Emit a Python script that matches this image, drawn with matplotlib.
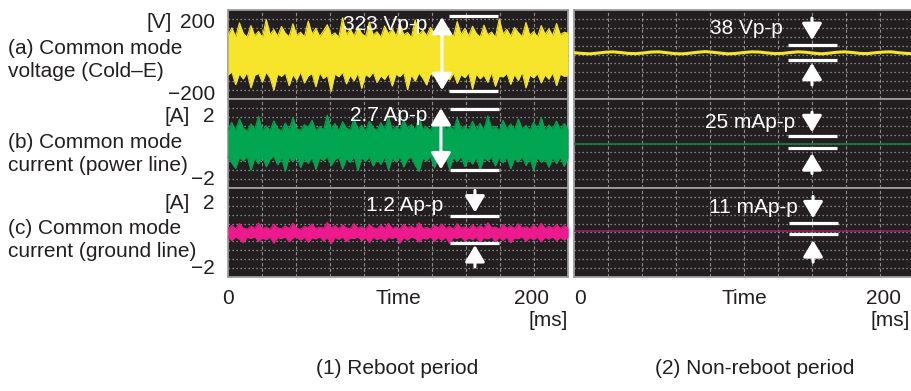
import matplotlib
matplotlib.use("Agg")
import matplotlib.pyplot as plt
import numpy as np

plt.rcParams['font.family'] = ['Liberation Sans', 'DejaVu Sans']

# ---- data ----
t_max = 224  # ms shown per screen

# (1) reboot period: envelope tops/bottoms of the noisy traces
volt_upper = [88, 120, 80, 142, 95, 78, 130, 84, 104, 76, 158, 90, 112, 82, 126, 96, 80, 138, 86, 100,
              79, 150, 92, 118, 81, 106, 134, 85, 97, 77, 165, 89, 114, 83, 124, 94, 80, 146, 87, 102,
              78, 128, 93, 116, 82, 140, 88, 99, 76, 155, 91, 110, 84, 122, 97, 79, 136, 86, 104, 80,
              148, 90, 117, 83, 127, 95, 78, 132, 88, 101, 77, 160, 92, 113, 82, 121, 98, 80, 144, 86,
              103, 79, 130, 91, 115, 84, 139, 89, 100, 96]
volt_lower = [-92, -78, -135, -86, -110, -80, -150, -94, -84, -124, -79, -105, -160, -88, -98, -82, -140, -90, -115, -77,
              -128, -96, -85, -145, -81, -108, -92, -166, -87, -100, -79, -132, -93, -118, -83, -152, -89, -102, -78, -126,
              -95, -112, -84, -142, -88, -99, -80, -158, -91, -120, -82, -106, -137, -86, -97, -79, -148, -94, -114, -83,
              -130, -90, -104, -81, -155, -87, -109, -92, -125, -80, -143, -96, -101, -84, -134, -89, -117, -78, -150, -93,
              -105, -85, -128, -91, -111, -82, -140, -88, -98, -95]

pwr_upper = [0.62, 0.95, 0.58, 1.10, 0.70, 0.55, 0.88, 0.64, 1.22, 0.60, 0.80, 0.57, 1.02, 0.68, 0.56, 0.92, 0.61, 1.15, 0.66, 0.59,
             0.85, 0.72, 1.05, 0.58, 0.76, 0.62, 1.28, 0.65, 0.90, 0.57, 0.98, 0.69, 0.60, 1.12, 0.63, 0.82, 0.56, 1.00, 0.71, 0.59,
             0.94, 0.64, 1.18, 0.61, 0.78, 0.58, 1.06, 0.67, 0.86, 0.60, 1.20, 0.65, 0.74, 0.57, 0.96, 0.70, 1.08, 0.62, 0.84, 0.59,
             1.14, 0.66, 0.79, 0.58, 1.00, 0.63, 0.91, 0.60, 1.24, 0.68, 0.77, 0.56, 1.04, 0.64, 0.88, 0.61, 1.10, 0.66, 0.81, 0.58,
             0.97, 0.63, 1.16, 0.60, 0.83, 0.67, 1.01, 0.62, 0.90, 0.65]
pwr_lower = [-0.60, -0.88, -1.12, -0.62, -0.78, -0.57, -1.20, -0.66, -0.92, -0.59, -1.05, -0.70, -0.58, -0.96, -0.64, -1.25, -0.61, -0.82, -0.56, -1.08,
             -0.68, -0.90, -0.60, -1.16, -0.65, -0.76, -0.58, -1.00, -0.72, -0.62, -1.14, -0.66, -0.86, -0.57, -1.22, -0.63, -0.80, -0.60, -1.02, -0.69,
             -0.94, -0.59, -1.18, -0.64, -0.84, -0.58, -1.06, -0.70, -0.61, -0.98, -1.26, -0.65, -0.79, -0.57, -1.10, -0.67, -0.89, -0.60, -1.15, -0.63,
             -0.81, -0.58, -1.04, -0.68, -0.93, -0.61, -1.19, -0.66, -0.77, -0.59, -1.01, -0.64, -0.87, -0.62, -1.13, -0.67, -0.83, -0.58, -0.99, -0.65,
             -1.21, -0.60, -0.85, -0.69, -1.07, -0.63, -0.91, -0.61, -1.03, -0.64]

gnd_upper = [0.18, 0.32, 0.16, 0.40, 0.20, 0.15, 0.28, 0.19, 0.43, 0.17, 0.25, 0.14, 0.36, 0.21, 0.16, 0.30, 0.18, 0.42, 0.20, 0.15,
             0.27, 0.22, 0.38, 0.17, 0.24, 0.19, 0.45, 0.20, 0.31, 0.16, 0.34, 0.21, 0.17, 0.39, 0.19, 0.26, 0.15, 0.35, 0.22, 0.17,
             0.33, 0.19, 0.41, 0.18, 0.25, 0.16, 0.37, 0.20, 0.29, 0.17, 0.44, 0.19, 0.23, 0.15, 0.33, 0.21, 0.38, 0.18, 0.27, 0.16,
             0.40, 0.20, 0.25, 0.17, 0.35, 0.19, 0.31, 0.18, 0.43, 0.21, 0.24, 0.16, 0.36, 0.19, 0.30, 0.18, 0.39, 0.20, 0.26, 0.17,
             0.34, 0.19, 0.41, 0.18, 0.28, 0.20, 0.35, 0.18, 0.31, 0.19]
gnd_lower = [-0.22, -0.36, -0.20, -0.30, -0.46, -0.21, -0.26, -0.19, -0.40, -0.23, -0.33, -0.20, -0.48, -0.22, -0.28, -0.19, -0.42, -0.24, -0.21, -0.35,
             -0.20, -0.44, -0.23, -0.29, -0.19, -0.38, -0.22, -0.50, -0.21, -0.31, -0.20, -0.41, -0.24, -0.27, -0.19, -0.37, -0.22, -0.45, -0.20, -0.32,
             -0.23, -0.39, -0.21, -0.28, -0.19, -0.47, -0.22, -0.34, -0.20, -0.26, -0.43, -0.23, -0.30, -0.19, -0.40, -0.21, -0.36, -0.20, -0.49, -0.22,
             -0.27, -0.19, -0.38, -0.23, -0.32, -0.20, -0.44, -0.22, -0.29, -0.19, -0.41, -0.21, -0.35, -0.20, -0.46, -0.23, -0.28, -0.19, -0.39, -0.22,
             -0.33, -0.20, -0.42, -0.21, -0.30, -0.19, -0.37, -0.22, -0.34, -0.21]

# (2) non-reboot period: nearly flat traces
volt_quiet = [8, 5, 3, 6, 10, 12, 9, 5, 4, 7, 11, 12, 8, 4, 3, 6, 10, 13, 10, 6, 3, 5, 9, 12, 11, 7, 4,
              5, 9, 12, 10, 6, 3, 6, 10, 12, 9, 5, 4, 8, 11, 12, 8, 5, 4]
pwr_quiet = [0.0, 0.0]
gnd_quiet = [0.05, 0.05]

pp_labels = [["323 Vp-p", "2.7 Ap-p", "1.2 Ap-p"],
             ["38 Vp-p", "25 mAp-p", "11 mAp-p"]]
row_titles = [("(a) Common mode", "voltage (Cold\u2013E)"),
              ("(b) Common mode", "current (power line)"),
              ("(c) Common mode", "current (ground line)")]
captions = ["(1) Reboot period", "(2) Non-reboot period"]

# ---- layout ----
W, H = 912, 391
BG = '#231f20'
YELLOW = '#f6e52a'
GREEN = '#00a651'
MAGENTA = '#ec1a8c'
FS = 15

fig = plt.figure(figsize=(W / 100, H / 100), dpi=100)


def ftext(px, py, s, **kw):
    kw.setdefault('fontsize', FS)
    kw.setdefault('color', '#231f20')
    fig.text(px / W, 1 - py / H, s, **kw)


bands = [(10, 99), (99, 188), (188, 277)]
panel_x = [228, 574]
panel_w = 340
xlims = [(0, t_max), (-4, t_max - 4)]
ylims = [200, 2, 2]

axes = [[None] * 3 for _ in range(2)]
for p in range(2):
    for i, (top, bot) in enumerate(bands):
        ax = fig.add_axes([panel_x[p] / W, 1 - bot / H, panel_w / W, (bot - top) / H])
        ax.set_facecolor(BG)
        ax.set_xlim(*xlims[p])
        ax.set_ylim(-ylims[i], ylims[i])
        for s in ax.spines.values():
            s.set_color('#9d9d9d')
            s.set_linewidth(1.3)
        ax.set_yticks([])
        ax.set_xticks([])
        x0, x1 = xlims[p]
        for k in range(1, 10):
            ax.axvline(x0 + (x1 - x0) * k / 10, color='#8c8c8c', lw=0.8,
                       ls=(0, (3, 2)), zorder=1)
            ax.axhline(-ylims[i] + 2 * ylims[i] * k / 10, color='#a0a0a0', lw=0.9,
                       ls=(0, (1, 2.2)), zorder=1)
        axes[p][i] = ax

# reboot traces
for i, (up, lo, col) in enumerate([(volt_upper, volt_lower, YELLOW),
                                    (pwr_upper, pwr_lower, GREEN),
                                    (gnd_upper, gnd_lower, MAGENTA)]):
    ax = axes[0][i]
    t = np.linspace(0, t_max, len(up))
    ax.fill_between(t, lo, up, color=col, lw=0, zorder=3)
    ax.plot(t, up, color=col, lw=0.8, zorder=3)
    ax.plot(t, lo, color=col, lw=0.8, zorder=3)

# non-reboot traces
tq = np.linspace(-4, t_max - 4, len(volt_quiet))
axes[1][0].plot(tq, volt_quiet, color=YELLOW, lw=2.2, zorder=3)
axes[1][1].plot([-4, t_max - 4], pwr_quiet, color='#1b7a3a', lw=1.3, zorder=3)
axes[1][2].plot([-4, t_max - 4], gnd_quiet, color='#b8146a', lw=1.1, zorder=3)

# ---- p-p markers ----
head = "-|>,head_length=1.0,head_width=0.6"
dbl = "<|-|>,head_length=1.0,head_width=0.6"


def arrow(ax, x, y0, y1, style=head):
    ax.annotate("", xy=(x, y1), xytext=(x, y0), zorder=5,
                arrowprops=dict(arrowstyle=style, color='white', lw=2.2,
                                mutation_scale=10, shrinkA=0, shrinkB=0))


def bars(ax, x0, x1, ys):
    for y in ys:
        ax.plot([x0, x1], [y, y], color='white', lw=2.3, zorder=5, solid_capstyle='butt')


# left panel
a = axes[0]
arrow(a[0], 141, 168, -160, dbl)
bars(a[0], 145.6, 178, [173, -164])
a[0].text(131, 133, pp_labels[0][0], color='white', fontsize=FS, ha='right', va='center', zorder=6)

arrow(a[1], 140.3, 1.59, -1.16, dbl)
bars(a[1], 146.3, 178.5, [1.55, -1.21])
a[1].text(131, 1.28, pp_labels[0][1], color='white', fontsize=FS, ha='right', va='center', zorder=6)

arrow(a[2], 162.7, 1.89, 0.90)
arrow(a[2], 162.7, -1.55, -0.57)
bars(a[2], 146.3, 178.5, [0.72, -0.48])
a[2].text(142, 1.22, pp_labels[0][2], color='white', fontsize=FS, ha='right', va='center', zorder=6)

# right panel
b = axes[1]
arrow(b[0], 152.8, 164, 65)
arrow(b[0], 152.8, -137, -38)
bars(b[0], 137, 169.3, [42.7, -24.7])
b[0].text(133.7, 119, pp_labels[1][0], color='white', fontsize=FS, ha='right', va='center', zorder=6)

arrow(b[1], 152.8, 1.41, 0.51)
arrow(b[1], 152.8, -1.35, -0.44)
bars(b[1], 137, 169.3, [0.33, -0.215])
b[1].text(141.6, 0.96, pp_labels[1][1], color='white', fontsize=FS, ha='right', va='center', zorder=6)

arrow(b[2], 153.5, 1.62, 0.64)
arrow(b[2], 153.5, -1.33, -0.35)
bars(b[2], 137.6, 169.9, [0.41, -0.08])
b[2].text(143.6, 1.13, pp_labels[1][2], color='white', fontsize=FS, ha='right', va='center', zorder=6)

# ---- outside texts ----
for (l1, l2), y in zip(row_titles, [48, 142, 228]):
    ftext(8, y, l1, va='center')
    ftext(8, y + 23.5, l2, va='center')

ftext(172, 22, "[V]", ha='right', va='center')
ftext(215, 22, "200", ha='right', va='center')
ftext(215, 95, "\u2212200", ha='right', va='center')
ftext(190, 116, "[A]", ha='right', va='center')
ftext(215, 116, "2", ha='right', va='center')
ftext(215, 180, "\u22122", ha='right', va='center')
ftext(190, 203, "[A]", ha='right', va='center')
ftext(215, 203, "2", ha='right', va='center')
ftext(215, 268, "\u22122", ha='right', va='center')

for p in range(2):
    ax = axes[p][2]
    ax.set_xticks([0, 200])
    ax.set_xticklabels(["0", "200"])
    ax.tick_params(axis='x', length=0, pad=9, labelsize=FS, labelcolor='#231f20')

ftext(398, 298, "Time", ha='center', va='center')
ftext(744, 298, "Time", ha='center', va='center')
ftext(568, 321, "[ms]", ha='right', va='center')
ftext(910, 321, "[ms]", ha='right', va='center')

ftext(397, 368, captions[0], ha='center', va='center')
ftext(755, 368, captions[1], ha='center', va='center')

fig.savefig("out.png", dpi=100, facecolor='white')
